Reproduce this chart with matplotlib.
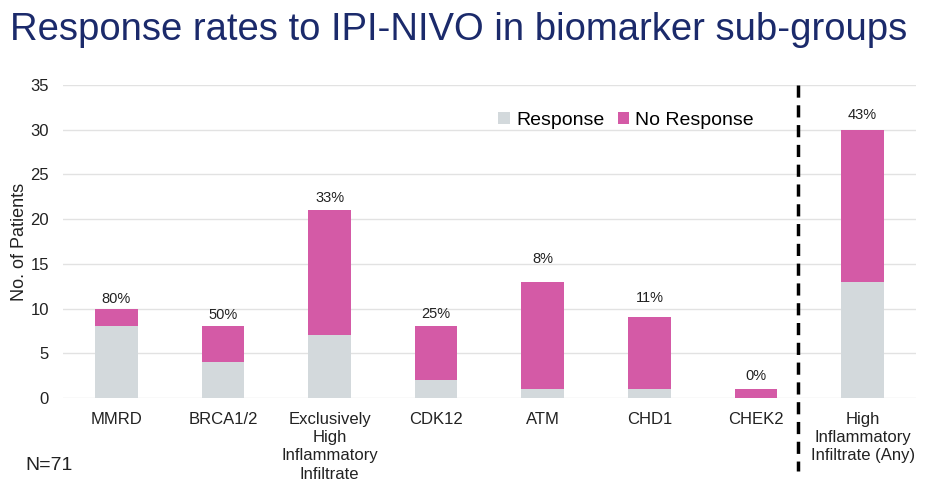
import numpy as np
import matplotlib
matplotlib.use("Agg")
import matplotlib.pyplot as plt
from matplotlib.lines import Line2D

plt.rcParams["font.family"] = ["Liberation Sans", "DejaVu Sans"]

# data
groups = ["MMRD", "BRCA1/2", "Exclusively\nHigh\nInflammatory\nInfiltrate",
          "CDK12", "ATM", "CHD1", "CHEK2", "High\nInflammatory\nInfiltrate (Any)"]
response = [8, 4, 7, 2, 1, 1, 0, 13]
no_response = [2, 4, 14, 6, 12, 8, 1, 17]
pct_labels = ["80%", "50%", "33%", "25%", "8%", "11%", "0%", "43%"]

GREY = "#D3D9DC"
PINK = "#D45AA6"

fig = plt.figure(figsize=(9.36, 4.82), dpi=100)
ax = fig.add_axes([0.0673, 0.1743, 0.9113, 0.6494])

x = np.arange(len(groups))
ax.bar(x, response, width=0.4, color=GREY, label="Response", zorder=2)
ax.bar(x, no_response, width=0.4, bottom=response, color=PINK,
       label="No Response", zorder=2)

# percentage labels (heights as placed on the slide)
label_y = [11.1, 9.3, 22.4, 9.4, 15.5, 11.15, 2.46, 31.6]
for xi, txt, ly in zip(x, pct_labels, label_y):
    ax.text(xi, ly, txt, ha="center", va="center", fontsize=10.5, color="#222222")

ax.set_xlim(-0.5, len(groups) - 0.5)
ax.set_ylim(0, 35)
ax.set_yticks(range(0, 36, 5))
ax.set_xticks(x)
ax.set_xticklabels(groups, fontsize=12, linespacing=1.27, color="#222222")
ax.tick_params(axis="y", labelsize=12, length=0, pad=10, colors="#222222")
ax.tick_params(axis="x", length=0, pad=10)
ax.grid(axis="y", color="#E2E2E2", linewidth=1, zorder=0)
for s in ax.spines.values():
    s.set_visible(False)
ax.set_ylabel("No. of Patients", fontsize=13, color="#222222", labelpad=2)

# dashed separator before the "any" group
sep = Line2D([6.39, 6.39], [35, -8.2], transform=ax.transData, color="black",
             linewidth=2.5, linestyle=(0, (3.5, 2.2)), clip_on=False)
ax.add_line(sep)

ax.legend(loc="upper left", bbox_to_anchor=(0.49, 0.97), ncol=2, frameon=False,
          fontsize=14, handlelength=0.6, handleheight=0.6, handletextpad=0.3,
          columnspacing=0.7)

fig.text(0.011, 0.937, "Response rates to IPI-NIVO in biomarker sub-groups",
         fontsize=27.5, color="#1B2A6B", va="center", ha="left")
fig.text(0.027, 0.035, "N=71", fontsize=14, color="#222222", va="center")

fig.savefig("out.png", dpi=100)
